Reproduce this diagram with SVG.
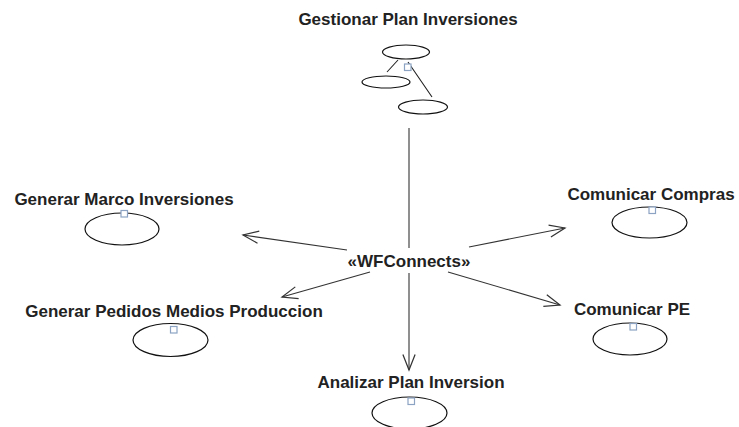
<svg xmlns="http://www.w3.org/2000/svg" width="739" height="427" viewBox="0 0 739 427">
  <style>
    .lbl { font-family: "Liberation Sans", Arial, sans-serif; font-weight: bold; font-size: 17px; fill: #222; text-anchor: middle; }
    .uc { fill: #fff; stroke: #111; stroke-width: 1.2; }
    .mark { fill: #fff; stroke: #8da3c4; stroke-width: 1.2; }
    .conn { fill: none; stroke: #333; stroke-width: 1.1; }
    .tree { fill: none; stroke: #222; stroke-width: 1.1; }
  </style>
  <defs>
    <marker id="open" markerUnits="userSpaceOnUse" markerWidth="20" markerHeight="20" viewBox="-16 -8 18 16" refX="0" refY="0" orient="auto">
      <path d="M-14,-5.5 L0,0 L-14,5.5" fill="none" stroke="#333" stroke-width="1.1"/>
    </marker>
  </defs>
  <rect width="739" height="427" fill="#fff"/>

  <!-- Source use case with its package-like icon -->
  <g id="gestionar-plan-inversiones">
    <text class="lbl" x="408" y="25">Gestionar Plan Inversiones</text>
    <ellipse class="uc" cx="406" cy="52" rx="23.5" ry="7"/>
    <ellipse class="uc" cx="386" cy="82" rx="24" ry="6"/>
    <ellipse class="uc" cx="423" cy="107" rx="24.5" ry="7"/>
    <path class="tree" d="M398,60 L387,72 M408,62 L432,97"/>
    <rect class="mark" x="404.5" y="64" width="6.5" height="6.5"/>
  </g>

  <g id="generar-marco-inversiones">
    <text class="lbl" x="124" y="205">Generar Marco Inversiones</text>
    <ellipse class="uc" cx="122" cy="229" rx="37" ry="16"/>
    <rect class="mark" x="121" y="210.5" width="6.5" height="6.5"/>
  </g>

  <g id="comunicar-compras">
    <text class="lbl" x="651" y="200">Comunicar Compras</text>
    <ellipse class="uc" cx="649.5" cy="222.5" rx="37.5" ry="15.5"/>
    <rect class="mark" x="649" y="207" width="6.5" height="6.5"/>
  </g>

  <g id="generar-pedidos-medios-produccion">
    <text class="lbl" x="174" y="317">Generar Pedidos Medios Produccion</text>
    <ellipse class="uc" cx="170.5" cy="340" rx="37.5" ry="16.5"/>
    <rect class="mark" x="170.5" y="326.5" width="6.5" height="6.5"/>
  </g>

  <g id="comunicar-pe">
    <text class="lbl" x="632" y="315">Comunicar PE</text>
    <ellipse class="uc" cx="630" cy="339" rx="37" ry="16"/>
    <rect class="mark" x="630" y="323.5" width="6.5" height="6.5"/>
  </g>

  <g id="analizar-plan-inversion">
    <text class="lbl" x="411" y="388">Analizar Plan Inversion</text>
    <ellipse class="uc" cx="409.5" cy="413" rx="37.5" ry="16"/>
    <rect class="mark" x="408" y="398" width="6.5" height="6.5"/>
  </g>

  <!-- WFConnects dependencies -->
  <g id="connectors">
    <path class="conn" d="M409,128 L409,248"/>
    <path class="conn" d="M409,273 L409,370" marker-end="url(#open)"/>
    <path class="conn" d="M347,250 L243,235" marker-end="url(#open)"/>
    <path class="conn" d="M469,247 L565,228" marker-end="url(#open)"/>
    <path class="conn" d="M370,272 L282,297" marker-end="url(#open)"/>
    <path class="conn" d="M448,272 L560,305" marker-end="url(#open)"/>
    <text class="lbl" x="409" y="267">«WFConnects»</text>
  </g>
</svg>
